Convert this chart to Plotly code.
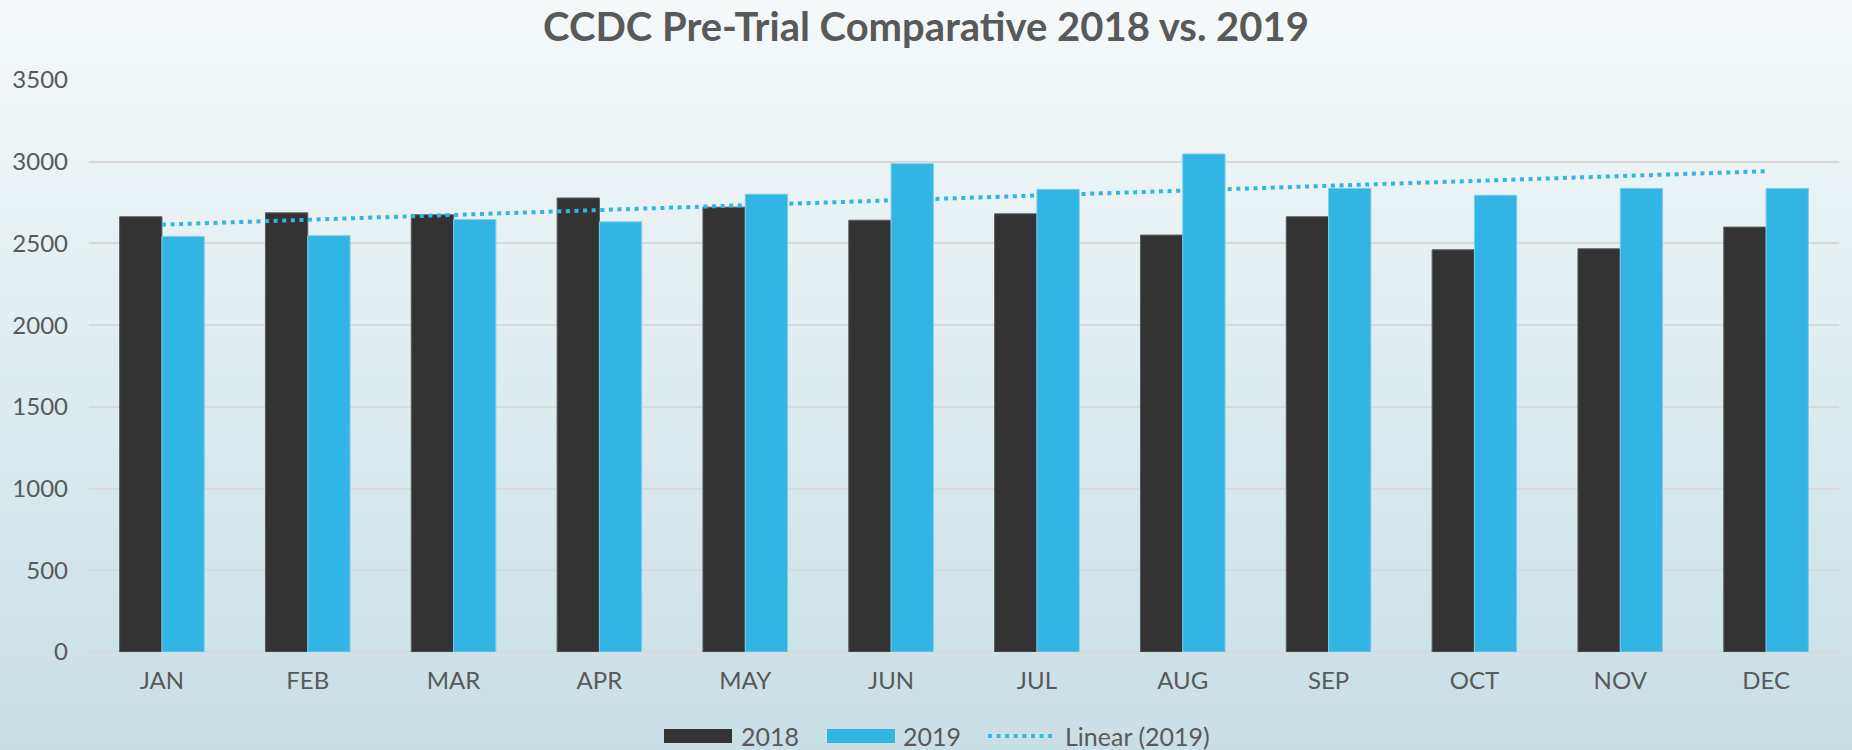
import numpy as np
import plotly.graph_objects as go

months = ["JAN", "FEB", "MAR", "APR", "MAY", "JUN", "JUL", "AUG", "SEP", "OCT", "NOV", "DEC"]
values_2018 = [2663, 2687, 2675, 2778, 2722, 2642, 2681, 2551, 2663, 2461, 2467, 2600]
values_2019 = [2543, 2547, 2646, 2632, 2801, 2988, 2831, 3047, 2837, 2795, 2837, 2837]
y_ticks = [0, 500, 1000, 1500, 2000, 2500, 3000, 3500]
legend_names = ["2018", "2019", "Linear (2019)"]

# Linear trendline of 2019 (least squares, as the spreadsheet does)
idx = np.arange(1, len(values_2019) + 1)
slope, intercept = np.polyfit(idx, values_2019, 1)
trend_2019 = list(slope * idx + intercept)

DARK = "#333333"
BLUE = "#32B5E5"
TEXT = "#595959"
FONT = "Lato, 'Open Sans', sans-serif"

W, H = 1852, 750
ML, MR, MT, MB = 89, 13, 80, 98
PW, PH = W - ML - MR, H - MT - MB


def px_x(px):
    return (px - ML) / PW


def px_y(py):
    return (H - MB - py) / PH


fig = go.Figure()

# background vertical gradient (styling only)
top = np.array([0xF5, 0xF9, 0xFA])
bot = np.array([0xC8, 0xDF, 0xE5])
n = 75
for i in range(n):
    t = (i + 0.5) / n
    c = top + (bot - top) * t
    fig.add_shape(type="rect", xref="paper", yref="paper",
                  x0=px_x(-5), x1=px_x(W + 5),
                  y0=px_y(i * H / n - 0.5), y1=px_y((i + 1) * H / n + 0.5),
                  line_width=0, layer="below",
                  fillcolor="rgb(%d,%d,%d)" % tuple(int(round(v)) for v in c))

fig.add_trace(go.Bar(x=months, y=values_2018, name=legend_names[0], showlegend=False,
                     marker=dict(color=DARK, line=dict(color="#5a5a5a", width=1))))
fig.add_trace(go.Bar(x=months, y=values_2019, name=legend_names[1], showlegend=False,
                     marker=dict(color=BLUE, line=dict(color="#7fcdea", width=1))))
fig.add_trace(go.Scatter(x=months, y=trend_2019, mode="lines", name=legend_names[2],
                         showlegend=False,
                         line=dict(color=BLUE, width=4, dash="4px,4.6px")))

# custom legend with wide swatches, like the spreadsheet legend
leg_y = 736
fig.add_shape(type="rect", xref="paper", yref="paper",
              x0=px_x(664), x1=px_x(732), y0=px_y(729), y1=px_y(743),
              fillcolor=DARK, line_width=0)
fig.add_shape(type="rect", xref="paper", yref="paper",
              x0=px_x(827), x1=px_x(895), y0=px_y(729), y1=px_y(743),
              fillcolor=BLUE, line_width=0)
fig.add_shape(type="line", xref="paper", yref="paper",
              x0=px_x(988), x1=px_x(1052), y0=px_y(leg_y), y1=px_y(leg_y),
              line=dict(color=BLUE, width=4, dash="4px,4.6px"))
for name, xpx in zip(legend_names, [739, 901, 1063]):
    fig.add_annotation(text=name, xref="paper", yref="paper", x=px_x(xpx), y=px_y(leg_y),
                       xanchor="left", yanchor="middle", showarrow=False,
                       font=dict(family=FONT, size=25, color=TEXT))

fig.update_layout(
    width=W, height=H,
    margin=dict(l=ML, r=MR, t=MT, b=MB),
    paper_bgcolor="rgba(0,0,0,0)",
    plot_bgcolor="rgba(0,0,0,0)",
    barmode="group", bargap=0.42, bargroupgap=0,
    font=dict(family=FONT, color=TEXT, size=24),
    title=dict(text="<b>CCDC Pre-Trial Comparative 2018 vs. 2019</b>",
               x=0.5, xanchor="center", y=1 - 27 / H, yanchor="middle",
               font=dict(family=FONT, size=40, color=TEXT)),
    showlegend=False,
)
fig.update_xaxes(showgrid=False, showline=False, zeroline=False, ticks="",
                 tickfont=dict(size=24, color=TEXT), ticklabelstandoff=12)
fig.update_yaxes(range=[0, 3500], tickvals=y_ticks, showgrid=True, gridcolor="#D9D9D9",
                 gridwidth=2, zeroline=True, zerolinecolor="#D9D9D9", zerolinewidth=2,
                 showline=False, ticks="", tickfont=dict(size=24, color=TEXT),
                 ticklabelstandoff=20)

fig.write_html("out.html", config={"displayModeBar": False},
               post_script="document.body.style.margin='0';document.body.style.overflow='hidden';")
